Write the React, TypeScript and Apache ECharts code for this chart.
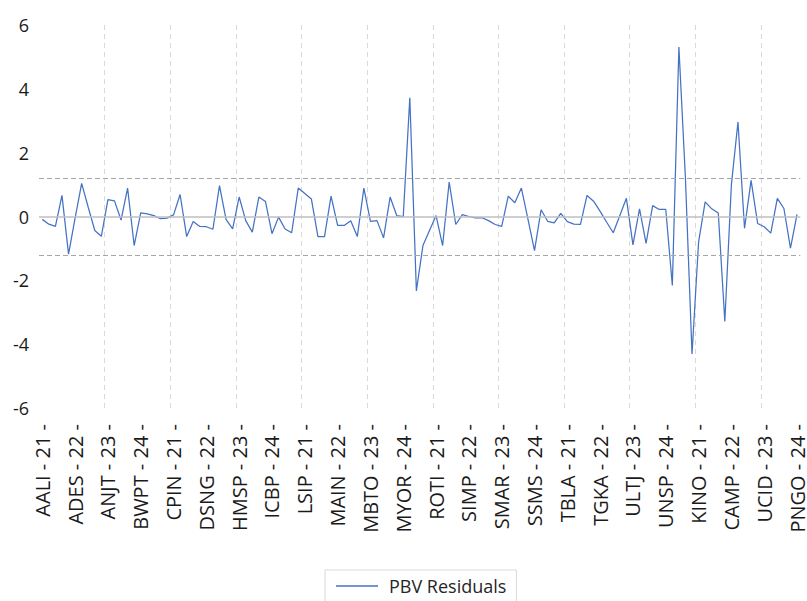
import React, { useEffect, useRef } from "react";
import * as echarts from "echarts";

const firms = [
  "AALI", "ADES", "ANJT", "BWPT", "CEKA", "CPIN", "DSNG", "HMSP", "ICBP", "INDF",
  "LSIP", "MAIN", "MBTO", "MYOR", "PSDN", "ROTI", "SIMP", "SMAR", "SSMS", "STTP",
  "TBLA", "TGKA", "ULTJ", "UNSP", "UNVR", "KINO", "CAMP", "UCID", "PNGO",
];
const years = ["21", "22", "23", "24"];
const categories: string[] = [];
firms.forEach((f) => years.forEach((y) => categories.push(`${f} - ${y} -`)));

const residuals = [
  -0.09, -0.24, -0.31, 0.66, -1.18, -0.05, 1.04, 0.29, -0.44, -0.62,
  0.53, 0.49, -0.11, 0.89, -0.91, 0.11, 0.08, 0.03, -0.07, -0.05,
  0.05, 0.69, -0.63, -0.16, -0.31, -0.32, -0.4, 0.97, -0.09, -0.39,
  0.61, -0.13, -0.49, 0.61, 0.47, -0.54, -0.02, -0.39, -0.51, 0.89,
  0.72, 0.55, -0.63, -0.63, 0.64, -0.28, -0.28, -0.13, -0.63, 0.89,
  -0.15, -0.13, -0.67, 0.61, 0.03, 0.0, 3.72, -2.33, -0.91, -0.44,
  0.03, -0.91, 1.08, -0.25, 0.06, 0.0, -0.04, -0.04, -0.13, -0.25,
  -0.31, 0.64, 0.43, 0.89, -0.08, -1.07, 0.21, -0.15, -0.2, 0.1,
  -0.16, -0.24, -0.25, 0.66, 0.48, 0.16, -0.18, -0.51, 0.03, 0.57,
  -0.89, 0.24, -0.84, 0.34, 0.22, 0.22, -2.16, 5.31, 1.18, -4.31,
  -0.8, 0.46, 0.24, 0.11, -3.29, 1.0, 2.96, -0.37, 1.13, -0.22,
  -0.32, -0.52, 0.57, 0.25, -0.99, 0.07,
];

const yTicks = { min: -6, max: 6, step: 2 };
const bandLimits = [1.21, -1.21];
const gridEvery = 10; // vertical gridline every N categories

const FONT = "'Open Sans', 'Liberation Sans', sans-serif";

export default function App() {
  const ref = useRef<HTMLDivElement>(null);
  useEffect(() => {
    if (!ref.current) return;
    const chart = echarts.init(ref.current, undefined, { renderer: "svg" });
    chart.setOption({
      animation: false,
      backgroundColor: "#ffffff",
      textStyle: { fontFamily: FONT },
      grid: { left: 39, right: 0, top: 25, bottom: 193, containLabel: false },
      legend: {
        data: ["PBV Residuals"],
        left: 325,
        top: 570,
        icon: "rect",
        itemWidth: 42,
        itemHeight: 1.5,
        itemGap: 10,
        padding: [7, 10, 8, 11],
        borderColor: "#d9d9d9",
        borderWidth: 1,
        textStyle: {
          fontFamily: FONT,
          fontSize: 18,
          color: "#262626",
          padding: [0, 0, 0, 6],
        },
      },
      xAxis: [
        {
          type: "category",
          data: categories,
          boundaryGap: true,
          axisLine: { show: false },
          axisTick: { show: false },
          axisLabel: {
            interval: 4,
            rotate: 90,
            margin: 16,
            fontFamily: FONT,
            fontSize: 20,
            color: "#1a1a1a",
          },
          splitLine: { show: false },
        },
        {
          type: "value",
          min: 0,
          max: categories.length,
          interval: gridEvery,
          position: "bottom",
          axisLine: { show: false },
          axisTick: { show: false },
          axisLabel: { show: false },
          splitLine: {
            show: true,
            showMinLine: false,
            showMaxLine: false,
            lineStyle: { color: "#d9d9d9", type: [5, 4], width: 1 },
          },
        },
      ],
      yAxis: {
        type: "value",
        min: yTicks.min,
        max: yTicks.max,
        interval: yTicks.step,
        axisLine: { show: false },
        axisTick: { show: false },
        splitLine: { show: false },
        axisLabel: {
          margin: 10,
          fontFamily: FONT,
          fontSize: 18,
          color: "#1a1a1a",
        },
      },
      series: [
        {
          name: "refs",
          type: "line",
          data: [],
          z: 1,
          silent: true,
          markLine: {
            silent: true,
            symbol: ["none", "none"],
            label: { show: false },
            emphasis: { disabled: true },
            data: [
              { yAxis: 0, lineStyle: { color: "#bfbfbf", type: "solid", width: 1.5 } },
              { yAxis: bandLimits[0], lineStyle: { color: "#a6a6a6", type: [5, 3], width: 1 } },
              { yAxis: bandLimits[1], lineStyle: { color: "#a6a6a6", type: [5, 3], width: 1 } },
            ],
          },
        },
        {
          name: "PBV Residuals",
          type: "line",
          data: residuals,
          z: 3,
          showSymbol: false,
          symbol: "none",
          lineStyle: { color: "#4472c4", width: 1.25 },
          itemStyle: { color: "#4472c4" },
        },
      ],
    });
    return () => chart.dispose();
  }, []);
  return <div ref={ref} style={{ width: 807, height: 601, position: "absolute", left: 0, top: 0 }} />;
}
